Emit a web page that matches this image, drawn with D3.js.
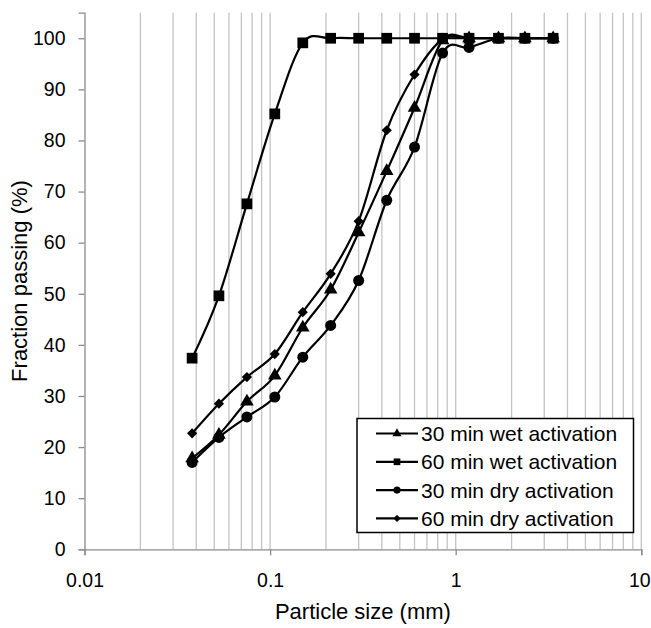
<!DOCTYPE html>
<html>
<head>
<meta charset="utf-8">
<script src="https://cdn.jsdelivr.net/npm/d3@7"></script>
<style>
    body { margin: 0; background: #fff; }
    text { font-family: Arial, "Liberation Sans", sans-serif; }
</style>
</head>
<body>
<svg id="chart" width="651" height="628"></svg>
<script>
// sieve sizes (mm) and % passing per series
const sizes = [0.038, 0.053, 0.075, 0.106, 0.15, 0.212, 0.3, 0.425, 0.6, 0.85, 1.18, 1.7, 2.36, 3.35];
const wet30 = [17.8, 22.4, 28.9, 34.0, 43.4, 50.8, 62.0, 74.0, 86.4, 99.6, 100, 100, 100, 100];
const wet60 = [37.4, 49.6, 67.6, 85.2, 99.1, 100, 100, 100, 100, 100, 100, 100, 100, 100];
const dry30 = [17.0, 21.9, 25.9, 29.8, 37.6, 43.8, 52.6, 68.3, 78.7, 97.1, 98.2, 100, 100, 100];
const dry60 = [22.7, 28.5, 33.7, 38.2, 46.4, 53.9, 64.2, 82.0, 92.9, 99.8, 100, 100, 100, 100];
const seriesNames = ["30 min wet activation", "60 min wet activation", "30 min dry activation", "60 min dry activation"];
const xTicks = [0.01, 0.1, 1, 10];
const yTicks = [0, 10, 20, 30, 40, 50, 60, 70, 80, 90, 100];

const margin = {top: 12.7, right: 10, bottom: 79, left: 84.5};
const width = 641.3 - margin.left;
const height = 549.3 - margin.top;

const svg = d3.select("#chart");
const g = svg.append("g").attr("transform", `translate(${margin.left},${margin.top})`);

const x = d3.scaleLog().domain([0.01, 10]).range([0, width]);
const y = d3.scaleLinear().domain([0, 105]).range([height, 0]);

// vertical gridlines at every 1..9 step per decade
const gridVals = [];
[0.01, 0.1, 1].forEach(dec => {
    for (let k = 2; k <= 10; k++) gridVals.push(dec * k);
});
g.selectAll(".grid")
    .data(gridVals)
    .enter().append("line")
    .attr("class", "grid")
    .attr("x1", d => x(d)).attr("x2", d => x(d))
    .attr("y1", 0).attr("y2", height)
    .attr("stroke", "#c4c4c4")
    .attr("stroke-width", 1.3);

// axes
const xAxis = d3.axisBottom(x).tickValues(xTicks).tickFormat(d3.format("~g")).tickSize(6).tickPadding(18);
const yAxis = d3.axisLeft(y).tickValues(yTicks).tickSize(6).tickPadding(13);

const gx = g.append("g").attr("transform", `translate(0,${height})`).call(xAxis);
const gy = g.append("g").call(yAxis);
[gx, gy].forEach(a => {
    a.select(".domain").attr("stroke", "#8c8c8c").attr("stroke-width", 1.3);
    a.selectAll(".tick line").attr("stroke", "#8c8c8c").attr("stroke-width", 1.3);
    a.selectAll("text").attr("font-size", 19.5).attr("fill", "#000")
        .style("font-family", "Arial, 'Liberation Sans', sans-serif");
});
// keep the last label inside the page
gx.selectAll(".tick text").filter(d => d === 10).attr("dx", -2);

svg.append("text")
    .attr("x", margin.left + width / 2)
    .attr("y", 619)
    .attr("text-anchor", "middle")
    .attr("font-size", 22)
    .text("Particle size (mm)");

svg.append("text")
    .attr("transform", `translate(27,${margin.top + height / 2}) rotate(-90)`)
    .attr("text-anchor", "middle")
    .attr("font-size", 22)
    .text("Fraction passing (%)");

// series
const symbols = [d3.symbolTriangle, d3.symbolSquare, d3.symbolCircle, d3.symbolSquare];
const symSize = [80, 115, 95, 52];
const legSize = [36, 45, 40, 26];
const symRotate = [0, 0, 0, 45];
const allSeries = [wet30, wet60, dry30, dry60].map((vals, i) => ({
    name: seriesNames[i],
    points: sizes.map((s, j) => ({s: s, v: vals[j]})),
    symbol: symbols[i],
    size: symSize[i],
    legSize: legSize[i],
    rot: symRotate[i]
}));

const line = d3.line()
    .x(d => x(d.s))
    .y(d => y(d.v))
    .curve(d3.curveCardinal.tension(0));

allSeries.forEach(ser => {
    const sg = g.append("g");
    sg.append("path")
        .attr("d", line(ser.points))
        .attr("fill", "none")
        .attr("stroke", "#000")
        .attr("stroke-width", 2.2);
    sg.selectAll("path.mark")
        .data(ser.points)
        .enter().append("path")
        .attr("class", "mark")
        .attr("transform", d => `translate(${x(d.s)},${y(d.v)}) rotate(${ser.rot})`)
        .attr("d", d3.symbol().type(ser.symbol).size(ser.size))
        .attr("fill", "#000");
});

// legend
const legend = svg.append("g").attr("transform", "translate(357,418.5)");
legend.append("rect")
    .attr("width", 276.5).attr("height", 114)
    .attr("fill", "#fff")
    .attr("stroke", "#000")
    .attr("stroke-width", 1.5);

const item = legend.selectAll(".item")
    .data(allSeries)
    .enter().append("g")
    .attr("class", "item")
    .attr("transform", (d, i) => `translate(0,${15 + i * 28.3})`);
item.append("line")
    .attr("x1", 19).attr("x2", 61)
    .attr("stroke", "#000").attr("stroke-width", 2.2);
item.append("path")
    .attr("transform", d => `translate(40,0) rotate(${d.rot})`)
    .attr("d", d => d3.symbol().type(d.symbol).size(d.legSize)())
    .attr("fill", "#000");
item.append("text")
    .attr("x", 64)
    .attr("dy", "0.36em")
    .attr("font-size", 21)
    .text(d => d.name);
</script>
</body>
</html>
